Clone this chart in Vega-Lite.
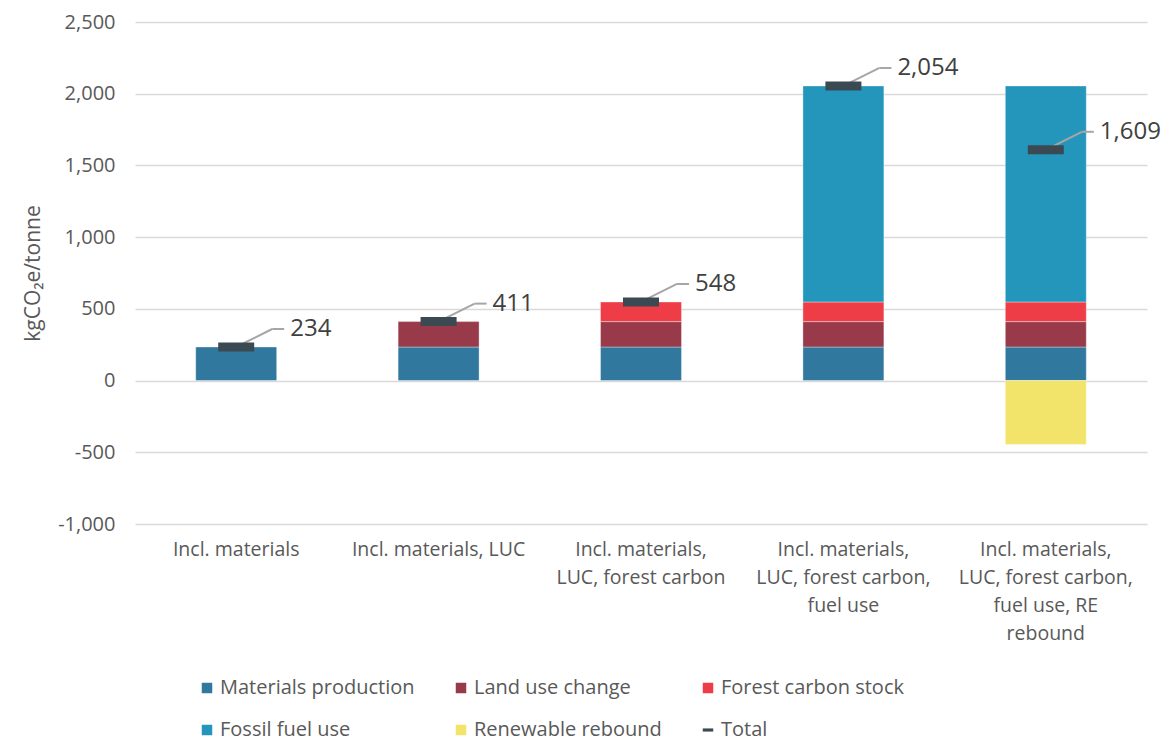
{
  "$schema": "https://vega.github.io/schema/vega-lite/v6.json",
  "width": 1012,
  "height": 502,
  "autosize": "none",
  "padding": {"left": 135, "top": 22, "right": 20, "bottom": 220},
  "background": "white",
  "config": {
    "view": {"stroke": null},
    "font": "Open Sans",
    "axis": {"labelFont": "Open Sans", "titleFont": "Open Sans", "labelColor": "#595959", "titleColor": "#595959"}
  },
  "datasets": {
    "parts": [
      {"Category": "Incl. materials", "Component": "Materials production", "Order": 1, "Value": 234},
      {"Category": "Incl. materials, LUC", "Component": "Materials production", "Order": 1, "Value": 234},
      {"Category": "Incl. materials, LUC", "Component": "Land use change", "Order": 2, "Value": 177},
      {"Category": "Incl. materials, LUC, forest carbon", "Component": "Materials production", "Order": 1, "Value": 234},
      {"Category": "Incl. materials, LUC, forest carbon", "Component": "Land use change", "Order": 2, "Value": 177},
      {"Category": "Incl. materials, LUC, forest carbon", "Component": "Forest carbon stock", "Order": 3, "Value": 137},
      {"Category": "Incl. materials, LUC, forest carbon, fuel use", "Component": "Materials production", "Order": 1, "Value": 234},
      {"Category": "Incl. materials, LUC, forest carbon, fuel use", "Component": "Land use change", "Order": 2, "Value": 177},
      {"Category": "Incl. materials, LUC, forest carbon, fuel use", "Component": "Forest carbon stock", "Order": 3, "Value": 137},
      {"Category": "Incl. materials, LUC, forest carbon, fuel use", "Component": "Fossil fuel use", "Order": 4, "Value": 1506},
      {"Category": "Incl. materials, LUC, forest carbon, fuel use, RE rebound", "Component": "Materials production", "Order": 1, "Value": 234},
      {"Category": "Incl. materials, LUC, forest carbon, fuel use, RE rebound", "Component": "Land use change", "Order": 2, "Value": 177},
      {"Category": "Incl. materials, LUC, forest carbon, fuel use, RE rebound", "Component": "Forest carbon stock", "Order": 3, "Value": 137},
      {"Category": "Incl. materials, LUC, forest carbon, fuel use, RE rebound", "Component": "Fossil fuel use", "Order": 4, "Value": 1506},
      {"Category": "Incl. materials, LUC, forest carbon, fuel use, RE rebound", "Component": "Renewable rebound", "Order": 5, "Value": -445}
    ],
    "totals": [
      {"Category": "Incl. materials", "Total": 234},
      {"Category": "Incl. materials, LUC", "Total": 411},
      {"Category": "Incl. materials, LUC, forest carbon", "Total": 548},
      {"Category": "Incl. materials, LUC, forest carbon, fuel use", "Total": 2054},
      {"Category": "Incl. materials, LUC, forest carbon, fuel use, RE rebound", "Total": 1609}
    ]
  },
  "encoding": {
    "x": {
      "field": "Category",
      "type": "nominal",
      "sort": null,
      "scale": {"paddingInner": 0.6, "paddingOuter": 0.3},
      "axis": {
        "title": null,
        "labelAngle": 0,
        "domain": false,
        "ticks": false,
        "labelFontSize": 19.5,
        "labelPadding": 16,
        "labelLineHeight": 28,
        "labelLimit": 0,
        "labelBaseline": "top",
        "labelExpr": "datum.value == 'Incl. materials, LUC, forest carbon' ? ['Incl. materials,', 'LUC, forest carbon'] : datum.value == 'Incl. materials, LUC, forest carbon, fuel use' ? ['Incl. materials,', 'LUC, forest carbon,', 'fuel use'] : datum.value == 'Incl. materials, LUC, forest carbon, fuel use, RE rebound' ? ['Incl. materials,', 'LUC, forest carbon,', 'fuel use, RE', 'rebound'] : datum.value"
      }
    }
  },
  "layer": [
    {
      "data": {"name": "parts"},
      "mark": {"type": "bar", "stroke": "#ffffff", "strokeOpacity": 0.35, "strokeWidth": 1},
      "encoding": {
        "y": {
          "field": "Value",
          "type": "quantitative",
          "stack": "zero",
          "scale": {"domain": [-1000, 2500], "nice": false},
          "axis": {
            "title": "kgCO₂e/tonne",
            "titleFontSize": 21,
            "titleFontWeight": "normal",
            "titlePadding": 14,
            "values": [-1000, -500, 0, 500, 1000, 1500, 2000, 2500],
            "format": ",.0f",
            "labelExpr": "replace(datum.label, '−', '-')",
            "labelFontSize": 20,
            "labelPadding": 20,
            "ticks": false,
            "domain": false,
            "grid": true,
            "gridColor": "#d9d9d9",
            "gridWidth": 1.5
          }
        },
        "order": {"field": "Order", "type": "quantitative", "sort": "ascending"},
        "color": {
          "field": "Component",
          "type": "nominal",
          "sort": ["Materials production", "Land use change", "Forest carbon stock", "Fossil fuel use", "Renewable rebound", "Total"],
          "scale": {
            "domain": ["Materials production", "Land use change", "Forest carbon stock", "Fossil fuel use", "Renewable rebound", "Total"],
            "range": ["#31789f", "#983a4a", "#ef3d47", "#2596bb", "#f2e46a", "#3b4a52"]
          },
          "legend": {
            "orient": "none",
            "legendX": 62,
            "legendY": 656,
            "direction": "horizontal",
            "columns": 3,
            "title": null,
            "symbolType": {"expr": "datum.value === 'Total' ? 'M-1,-0.3H1V0.3H-1Z' : 'square'"},
            "symbolSize": 110,
            "symbolStrokeWidth": 0,
            "labelFontSize": 20,
            "labelFont": "Open Sans",
            "labelColor": "#595959",
            "labelOffset": 3,
            "rowPadding": 22,
            "columnPadding": 36,
            "labelLimit": 300
          }
        }
      }
    },
    {
      "data": {"name": "totals"},
      "mark": {"type": "rule", "color": "#a6a6a6", "strokeWidth": 2, "x2Offset": 36, "y2Offset": -18},
      "encoding": {
        "x": {"field": "Category", "type": "nominal", "sort": null, "bandPosition": 0.5},
        "x2": {"field": "Category", "bandPosition": 0.5},
        "y": {"field": "Total", "type": "quantitative"},
        "y2": {"field": "Total"}
      }
    },
    {
      "data": {"name": "totals"},
      "mark": {"type": "rule", "color": "#a6a6a6", "strokeWidth": 2, "xOffset": 36, "x2Offset": 48, "yOffset": -18, "y2Offset": -18},
      "encoding": {
        "x": {"field": "Category", "type": "nominal", "sort": null, "bandPosition": 0.5},
        "x2": {"field": "Category", "bandPosition": 0.5},
        "y": {"field": "Total", "type": "quantitative"},
        "y2": {"field": "Total"}
      }
    },
    {
      "data": {"name": "totals"},
      "mark": {"type": "tick", "color": "#3b4a52", "size": 36, "thickness": 9, "orient": "horizontal", "opacity": 1},
      "encoding": {
        "y": {"field": "Total", "type": "quantitative"}
      }
    },
    {
      "data": {"name": "totals"},
      "mark": {"type": "text", "align": "left", "baseline": "middle", "dx": 54, "dy": -18, "fontSize": 24, "color": "#404040", "font": "Open Sans"},
      "encoding": {
        "y": {"field": "Total", "type": "quantitative"},
        "text": {"field": "Total", "type": "quantitative", "format": ","}
      }
    }
  ]
}
